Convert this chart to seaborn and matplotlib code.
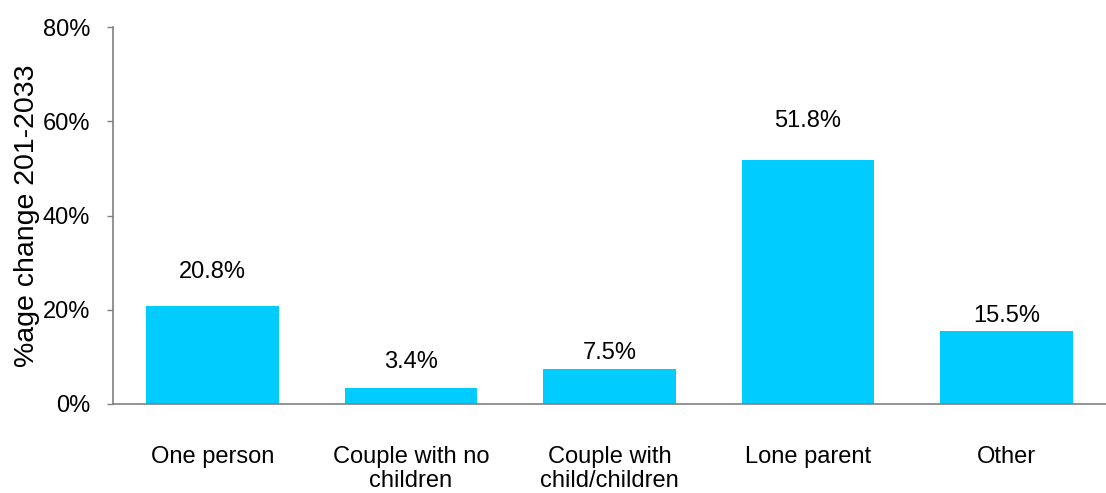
import matplotlib
matplotlib.use("Agg")
import matplotlib.pyplot as plt
import seaborn as sns
import pandas as pd
import numpy as np

categories = ["One person", "Couple with no\nchildren", "Couple with\nchild/children", "Lone parent", "Other"]
values = [20.8, 3.4, 7.5, 51.8, 15.5]
value_labels = ["20.8%", "3.4%", "7.5%", "51.8%", "15.5%"]
label_offsets = [7.2, 5.5, 3.4, 8.3, 3.2]
y_ticks = [0, 20, 40, 60, 80]
y_tick_labels = ["0%", "20%", "40%", "60%", "80%"]

sns.set_theme(style="white")
plt.rcParams["font.family"] = ["Liberation Sans", "DejaVu Sans"]

df = pd.DataFrame({"category": categories, "value": values})

fig = plt.figure(figsize=(11.06, 4.93), dpi=100)
ax = fig.add_axes([113 / 1106, 1 - 404 / 493, (1106 - 113) / 1106, (404 - 27) / 493])

sns.barplot(data=df, x="category", y="value", color="#00CCFF", saturation=1,
            width=0.667, ax=ax, edgecolor="none")

for i, (v, lab, off) in enumerate(zip(values, value_labels, label_offsets)):
    ax.text(i, v + off, lab, ha="center", va="center", fontsize=17, color="#000000")

ax.set_ylim(0, 80)
ax.set_xlim(-0.5, 4.5 - 12 / 201)
ax.set_yticks(y_ticks)
ax.set_yticklabels(y_tick_labels, fontsize=17, color="#000000")
ax.set_ylabel("%age change 201-2033", fontsize=20.5, labelpad=2, color="#000000")
ax.set_xlabel("")

ax.set_xticks(np.arange(5))
ax.set_xticklabels(categories, fontsize=17, linespacing=1.15, color="#000000")
ax.set_xticks(np.arange(-0.5, 4.6, 1), minor=True)
ax.tick_params(axis="x", which="major", length=0, pad=30)
ax.tick_params(axis="x", which="minor", length=5, width=1, color="#808080", direction="out")
ax.tick_params(axis="y", length=4.5, width=1, color="#808080", direction="out", left=True, pad=12)

for side in ["top", "right"]:
    ax.spines[side].set_visible(False)
for side in ["left", "bottom"]:
    ax.spines[side].set_color("#808080")
    ax.spines[side].set_linewidth(1.2)

fig.savefig("out.png", dpi=100)
